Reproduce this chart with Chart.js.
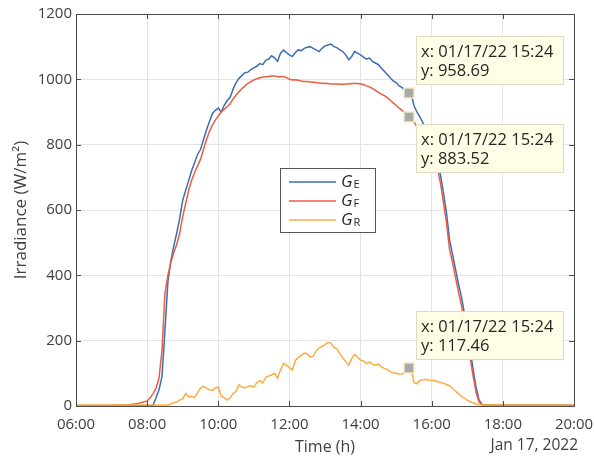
<!DOCTYPE html>
<html>
<head>
<meta charset="utf-8">
<script src="https://cdn.jsdelivr.net/npm/chart.js@4.4.1/dist/chart.umd.min.js"></script>
<style>
  html, body { margin: 0; padding: 0; background: #fff; }
</style>
</head>
<body>
<canvas id="irradianceChart" width="594" height="459"></canvas>
<script>
// Sample times (local time, Jan 17, 2022)
const times = [
    '06:00', '07:00', '07:30', '07:45',
    '08:00', '08:05', '08:10', '08:15', '08:20', '08:25', '08:30', '08:35', '08:40', '08:45', '08:50', '08:55',
    '09:00', '09:05', '09:10', '09:15', '09:20', '09:25', '09:30', '09:35', '09:40', '09:45', '09:50', '09:55',
    '10:00', '10:05', '10:10', '10:15', '10:20', '10:25', '10:30', '10:35', '10:40', '10:45', '10:50', '10:55',
    '11:00', '11:05', '11:10', '11:15', '11:20', '11:25', '11:30', '11:35', '11:40', '11:45', '11:50', '11:55',
    '12:00', '12:05', '12:10', '12:15', '12:20', '12:25', '12:30', '12:35', '12:40', '12:45', '12:50', '12:55',
    '13:00', '13:05', '13:10', '13:15', '13:20', '13:25', '13:30', '13:35', '13:40', '13:45', '13:50', '13:55',
    '14:00', '14:05', '14:10', '14:15', '14:20', '14:25', '14:30', '14:35', '14:40', '14:45', '14:50', '14:55',
    '15:00', '15:05', '15:10', '15:15', '15:20', '15:25', '15:30', '15:35', '15:40', '15:45', '15:50', '15:55',
    '16:00', '16:05', '16:10', '16:15', '16:20', '16:25', '16:30', '16:35', '16:40', '16:45', '16:50', '16:55',
    '17:00', '17:05', '17:10', '17:15', '17:20', '17:25', '17:30', '17:35', '17:40',
    '18:00', '19:00', '20:00'
];

// G_E
const gE = [
    1, 1, 1, 1,
    1, 1, 3, 25, 50, 90, 230, 380, 445, 490, 530, 575,
    630, 660, 690, 720, 745, 770, 785, 815, 845, 870, 895, 905,
    912, 900, 920, 935, 945, 970, 990, 1003, 1012, 1020, 1022, 1030,
    1035, 1040, 1048, 1045, 1058, 1062, 1072, 1066, 1055, 1080, 1090, 1082,
    1075, 1070, 1082, 1090, 1088, 1095, 1098, 1100, 1095, 1090, 1085, 1095,
    1102, 1105, 1108, 1100, 1097, 1090, 1085, 1075, 1060, 1070, 1085, 1080,
    1075, 1068, 1062, 1065, 1055, 1050, 1045, 1035, 1025, 1015, 1005, 995,
    990, 980, 975, 965, 962, 958, 920, 900, 885, 868, 840, 810,
    785, 765, 745, 705, 650, 590, 510, 465, 420, 375, 335, 285,
    225, 170, 110, 55, 18, 5, 3, 2, 2,
    2, 2, 2
];

// G_F
const gF = [
    1, 2, 4, 8,
    15, 25, 38, 55, 85, 170, 345, 400, 440, 470, 495, 530,
    580, 620, 660, 690, 715, 735, 755, 785, 815, 840, 860, 875,
    888, 900, 908, 916, 925, 940, 952, 962, 972, 980, 988, 993,
    998, 1002, 1005, 1007, 1008, 1009, 1010, 1010, 1008, 1008, 1009, 1005,
    1000, 998, 999, 997, 995, 993, 993, 992, 991, 990, 989, 988,
    987, 987, 986, 986, 986, 985, 985, 986, 986, 987, 987, 987,
    986, 984, 980, 977, 972, 966, 960, 955, 950, 944, 936, 928,
    920, 912, 905, 897, 889, 883, 870, 855, 838, 820, 800, 782,
    765, 745, 725, 680, 620, 560, 480, 440, 395, 350, 310, 260,
    200, 145, 90, 40, 12, 4, 3, 2, 2,
    2, 2, 2
];

// G_R
const gR = [
    3, 3, 3, 3,
    3, 3, 3, 3, 3, 3, 3, 3, 6, 10, 12, 18,
    22, 38, 28, 30, 25, 40, 55, 60, 55, 50, 48, 55,
    58, 30, 25, 18, 25, 38, 45, 65, 58, 55, 60, 62,
    58, 72, 78, 70, 88, 92, 95, 100, 85, 110, 130, 125,
    118, 110, 140, 148, 155, 162, 160, 150, 152, 168, 178, 182,
    188, 195, 192, 180, 175, 160, 148, 135, 125, 145, 158, 150,
    140, 138, 130, 135, 128, 125, 128, 120, 115, 112, 105, 102,
    100, 98, 97, 105, 112, 117, 72, 68, 78, 80, 82, 79,
    78, 77, 75, 72, 70, 66, 62, 55, 46, 38, 30, 24,
    18, 13, 9, 6, 4, 3, 3, 3, 3,
    3, 3, 3
];

const seriesNames = ['E', 'F', 'R'];
const xTickLabels = ['06:00', '08:00', '10:00', '12:00', '14:00', '16:00', '18:00', '20:00'];
const yTicks = [0, 200, 400, 600, 800, 1000, 1200];
const dateLabel = 'Jan 17, 2022';

// data tips
const tipDate = '01/17/22';
const tipTime = '15:24';
const tipValues = [958.69, 883.52, 117.46];

function toHours(s) {
    const p = s.split(':');
    return +p[0] + (+p[1]) / 60;
}
function points(values) {
    return times.map((t, i) => ({ x: toHours(t), y: values[i] }));
}

const colors = ['#3a6fb3', '#ee5b40', '#f9ad45'];
const FONT = "'Open Sans', 'Noto Sans', sans-serif";

// MATLAB-like box, inward ticks, legend, data tips
const matlabPlugin = {
    id: 'matlab-decor',
    afterDatasetsDraw(chart) {
        const ctx = chart.ctx;
        const ca = chart.chartArea;
        const xs = chart.scales.x, ys = chart.scales.y;
        ctx.save();

        // axes box + inward ticks
        ctx.strokeStyle = '#4a4a4a';
        ctx.lineWidth = 1;
        ctx.strokeRect(ca.left + 0.5, ca.top + 0.5, ca.right - ca.left, ca.bottom - ca.top);
        ctx.beginPath();
        xs.ticks.forEach(t => {
            const px = Math.round(xs.getPixelForValue(t.value)) + 0.5;
            ctx.moveTo(px, ca.bottom); ctx.lineTo(px, ca.bottom - 5);
            ctx.moveTo(px, ca.top); ctx.lineTo(px, ca.top + 5);
        });
        ys.ticks.forEach(t => {
            const py = Math.round(ys.getPixelForValue(t.value)) + 0.5;
            ctx.moveTo(ca.left, py); ctx.lineTo(ca.left + 5, py);
            ctx.moveTo(ca.right, py); ctx.lineTo(ca.right - 5, py);
        });
        ctx.stroke();

        // legend
        const lx = ca.left + 204, ly = ca.top + 154, lw = 95, lh = 64;
        ctx.fillStyle = '#ffffff';
        ctx.fillRect(lx, ly, lw, lh);
        ctx.strokeStyle = '#555';
        ctx.strokeRect(lx + 0.5, ly + 0.5, lw, lh);
        seriesNames.forEach((n, i) => {
            const ry = ly + 14 + i * 19;
            ctx.strokeStyle = colors[i];
            ctx.lineWidth = 1.5;
            ctx.beginPath();
            ctx.moveTo(lx + 9, ry); ctx.lineTo(lx + 56, ry);
            ctx.stroke();
            ctx.fillStyle = '#262626';
            ctx.textBaseline = 'middle';
            ctx.textAlign = 'left';
            ctx.font = 'italic 17px ' + FONT;
            ctx.fillText('G', lx + 61, ry);
            const gw = ctx.measureText('G').width;
            ctx.font = '11px ' + FONT;
            ctx.fillText(n, lx + 61 + gw + 1, ry + 3);
        });

        // data tips
        const mx = xs.getPixelForValue(toHours(tipTime));
        const above = [true, false, true];
        tipValues.forEach((v, i) => {
            const my = ys.getPixelForValue(v);
            const bw = 147, bh = 48;
            const bx = Math.round(mx + 6);
            const by = Math.round(above[i] ? my - 9 - bh : my + 7);
            ctx.fillStyle = '#fffde5';
            ctx.fillRect(bx, by, bw, bh);
            ctx.strokeStyle = '#dedbc2';
            ctx.lineWidth = 1;
            ctx.strokeRect(bx + 0.5, by + 0.5, bw, bh);
            ctx.fillStyle = '#262626';
            ctx.font = '16.5px ' + FONT;
            ctx.textAlign = 'left';
            ctx.textBaseline = 'middle';
            ctx.fillText('x: ' + tipDate + ' ' + tipTime, bx + 5, by + 16);
            ctx.fillText('y: ' + v.toFixed(2), bx + 5, by + 35);
            // marker
            ctx.fillStyle = '#a9a9a9';
            ctx.fillRect(Math.round(mx) - 6, Math.round(my) - 5, 10, 10);
            ctx.strokeStyle = '#efedc6';
            ctx.lineWidth = 1.5;
            ctx.strokeRect(Math.round(mx) - 6, Math.round(my) - 5, 10, 10);
        });

        // date under the x axis
        ctx.fillStyle = '#404040';
        ctx.font = '15.5px ' + FONT;
        ctx.textAlign = 'right';
        ctx.textBaseline = 'middle';
        ctx.fillText(dateLabel, ca.right + 4, 446);
        ctx.restore();
    }
};

const ctx = document.getElementById('irradianceChart').getContext('2d');
const irradianceChart = new Chart(ctx, {
    type: 'line',
    data: {
        datasets: [gE, gF, gR].map((vals, i) => ({
            label: 'G' + seriesNames[i],
            data: points(vals),
            borderColor: colors[i],
            borderWidth: 1.5,
            pointRadius: 0,
            fill: false,
            tension: 0,
            order: 3 - i
        }))
    },
    options: {
        responsive: false,
        animation: false,
        layout: { padding: { top: 14, right: 20, left: 0, bottom: 0 } },
        plugins: { legend: { display: false }, tooltip: { enabled: false } },
        scales: {
            x: {
                type: 'linear',
                min: 6,
                max: 20,
                afterFit: (scale) => {
                    scale.height = 53;
                    scale.paddingLeft = 0;
                    scale.paddingRight = 0;
                },
                afterBuildTicks: (scale) => {
                    scale.ticks = xTickLabels.map(l => ({ value: toHours(l) }));
                },
                ticks: {
                    callback: (v) => xTickLabels[(v - 6) / 2],
                    color: '#404040',
                    font: { family: FONT, size: 15 },
                    padding: 10,
                    maxRotation: 0
                },
                grid: { color: '#e4e4e4', drawTicks: false },
                border: { display: false },
                title: {
                    display: true,
                    text: 'Time (h)',
                    color: '#404040',
                    font: { family: FONT, size: 16 },
                    padding: { top: 0, bottom: 2 }
                }
            },
            y: {
                min: 0,
                max: 1200,
                afterFit: (scale) => {
                    scale.width = 76;
                    scale.paddingTop = 0;
                    scale.paddingBottom = 0;
                },
                afterBuildTicks: (scale) => {
                    scale.ticks = yTicks.map(v => ({ value: v }));
                },
                ticks: {
                    callback: (v) => String(v),
                    color: '#404040',
                    font: { family: FONT, size: 15 },
                    padding: 4
                },
                grid: { color: '#e4e4e4', drawTicks: false },
                border: { display: false },
                title: {
                    display: true,
                    text: 'Irradiance (W/m²)',
                    color: '#404040',
                    font: { family: FONT, size: 17 },
                    padding: { top: 11, bottom: 0 }
                }
            }
        }
    },
    plugins: [matlabPlugin]
});
</script>
</body>
</html>
